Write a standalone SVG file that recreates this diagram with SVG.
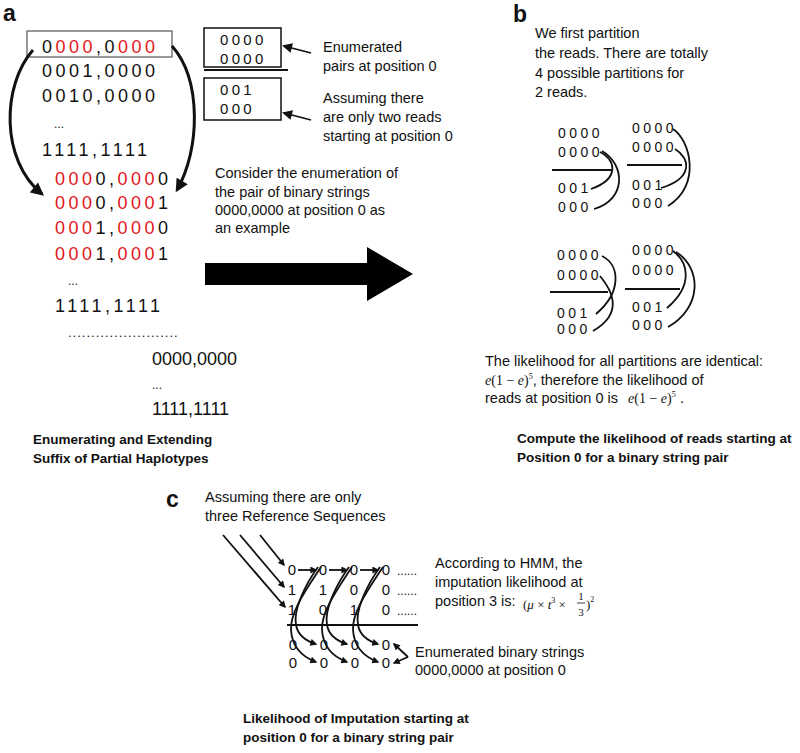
<svg xmlns="http://www.w3.org/2000/svg" width="800" height="753" viewBox="0 0 800 753">
<style>
.t{font-family:"Liberation Sans",Arial,sans-serif;font-size:14.5px;fill:#111}
.b{font-family:"Liberation Sans",Arial,sans-serif;font-weight:bold;font-size:13.5px;fill:#111}
.lbl{font-family:"Liberation Sans",Arial,sans-serif;font-weight:bold;font-size:23px;fill:#111}
.d17{font-family:"Liberation Sans",Arial,sans-serif;font-size:18px;fill:#111}
.sp{letter-spacing:3.5px}
.d14{font-family:"Liberation Sans",Arial,sans-serif;font-size:15px;letter-spacing:3.3px;fill:#111}
.d13{font-family:"Liberation Sans",Arial,sans-serif;font-size:14px;letter-spacing:3.5px;fill:#111}
.d15{font-family:"Liberation Sans",Arial,sans-serif;font-size:15px;fill:#111;text-anchor:middle}
.r{fill:#e3161b}
.m{font-family:"Liberation Serif","Times New Roman",serif;font-size:14px;fill:#111}
.i{font-style:italic}
.ln{stroke:#111;fill:none}
</style>
<defs>
<marker id="ahBig" viewBox="0 0 10 10" refX="8" refY="5" markerWidth="14" markerHeight="13" markerUnits="userSpaceOnUse" orient="auto"><path d="M0,0 L10,5 L0,10 z" fill="#111"/></marker>
<marker id="ahMid" viewBox="0 0 10 10" refX="8" refY="5" markerWidth="11" markerHeight="10" markerUnits="userSpaceOnUse" orient="auto"><path d="M0,0 L10,5 L0,10 z" fill="#111"/></marker>
<marker id="ahSm" viewBox="0 0 10 10" refX="8" refY="5" markerWidth="8" markerHeight="7" markerUnits="userSpaceOnUse" orient="auto"><path d="M0,0 L10,5 L0,10 z" fill="#111"/></marker>
</defs>
<rect width="800" height="753" fill="#fff"/>

<!-- Panel a -->
<g id="panel-a">
<text class="lbl" x="3" y="21">a</text>
<rect x="27" y="31" width="145" height="26" fill="none" stroke="#555" stroke-width="1.2"/>
<text class="d17 sp" x="42" y="53">0<tspan class="r">000</tspan>,0<tspan class="r">000</tspan></text>
<text class="d17 sp" x="42" y="77">0001,0000</text>
<text class="d17 sp" x="42" y="102">0010,0000</text>
<text class="t" x="54" y="128" style="font-size:12px">...</text>
<text class="d17 sp" x="42" y="156">1111,1111</text>
<text class="d17 sp" x="55" y="185"><tspan class="r">000</tspan>0,<tspan class="r">000</tspan>0</text>
<text class="d17 sp" x="55" y="209"><tspan class="r">000</tspan>0,<tspan class="r">000</tspan>1</text>
<text class="d17 sp" x="55" y="234"><tspan class="r">000</tspan>1,<tspan class="r">000</tspan>0</text>
<text class="d17 sp" x="55" y="260"><tspan class="r">000</tspan>1,<tspan class="r">000</tspan>1</text>
<text class="t" x="68" y="285" style="font-size:12px">...</text>
<text class="d17 sp" x="55" y="312">1111,1111</text>
<text class="t" x="68" y="337" style="font-size:13px;letter-spacing:1px">........................</text>
<text class="d17" x="152" y="365">0000,0000</text>
<text class="t" x="152" y="389" style="font-size:12px">...</text>
<text class="d17" x="152" y="415">1111,1111</text>
<text class="b" x="33" y="444">Enumerating and Extending</text>
<text class="b" x="33" y="463">Suffix of Partial Haplotypes</text>
</g>

<g id="box-pairs">
<rect x="204" y="28" width="77" height="39" fill="none" stroke="#111" stroke-width="1.5"/>
<text class="d14" x="220" y="45">0000</text>
<text class="d14" x="220" y="64">0000</text>
</g>
<g id="box-reads">
<rect x="204" y="78" width="77" height="42" fill="none" stroke="#111" stroke-width="1.5"/>
<text class="d14" x="220" y="95">001</text>
<text class="d14" x="220" y="114">000</text>
</g>
<g id="notes-a">
<text class="t" x="323" y="52">Enumerated</text>
<text class="t" x="323" y="71">pairs at position 0</text>
<text class="t" x="323" y="103">Assuming there</text>
<text class="t" x="323" y="122">are only two reads</text>
<text class="t" x="323" y="141">starting at position 0</text>
<text class="t" x="215" y="178">Consider the enumeration of</text>
<text class="t" x="215" y="197">the pair of binary strings</text>
<text class="t" x="215" y="215">0000,0000 at position 0 as</text>
<text class="t" x="215" y="233">an example</text>
</g>

<!-- Panel b -->
<g id="panel-b">
<text class="lbl" x="513" y="22">b</text>
<text class="t" x="535" y="38">We first partition</text>
<text class="t" x="535" y="58">the reads. There are totally</text>
<text class="t" x="535" y="78">4 possible partitions for</text>
<text class="t" x="535" y="97">2 reads.</text>
</g>
<g id="partition-1">
<text class="d13" x="558" y="138">0000</text>
<text class="d13" x="558" y="157">0000</text>
<line class="ln" x1="552" y1="170" x2="612" y2="170" stroke-width="2"/>
<text class="d13" x="558" y="193">001</text>
<text class="d13" x="558" y="212">000</text>
</g>
<g id="partition-2">
<text class="d13" x="632" y="133">0000</text>
<text class="d13" x="632" y="152">0000</text>
<line class="ln" x1="627" y1="165" x2="682" y2="165" stroke-width="2"/>
<text class="d13" x="632" y="190">001</text>
<text class="d13" x="632" y="208">000</text>
</g>
<g id="partition-3">
<text class="d13" x="557" y="260">0000</text>
<text class="d13" x="557" y="280">0000</text>
<line class="ln" x1="550" y1="292" x2="608" y2="292" stroke-width="2"/>
<text class="d13" x="557" y="318">001</text>
<text class="d13" x="557" y="334">000</text>
</g>
<g id="partition-4">
<text class="d13" x="632" y="255">0000</text>
<text class="d13" x="632" y="275">0000</text>
<line class="ln" x1="625" y1="289" x2="680" y2="289" stroke-width="2"/>
<text class="d13" x="632" y="312">001</text>
<text class="d13" x="632" y="330">000</text>
</g>
<g id="likelihood-b">
<text class="t" x="485" y="366">The likelihood for all partitions are identical:</text>
<text class="t" x="485" y="385"><tspan class="m i">e</tspan><tspan class="m">(1 − </tspan><tspan class="m i">e</tspan><tspan class="m">)</tspan><tspan class="m" style="font-size:8px" dy="-6">5</tspan><tspan dy="6">, therefore the likelihood of</tspan></text>
<text class="t" x="485" y="403">reads at position 0 is</text>
<text class="m" x="628" y="403"><tspan class="i">e</tspan>(1 − <tspan class="i">e</tspan>)<tspan style="font-size:8px" dy="-6">5</tspan></text>
<text class="t" x="680" y="403">.</text>
<text class="b" x="517" y="443">Compute the likelihood of reads starting at</text>
<text class="b" x="517" y="462">Position 0 for a binary string pair</text>
</g>

<!-- Panel c -->
<g id="panel-c">
<text class="lbl" x="166" y="507">c</text>
<text class="t" x="205" y="502">Assuming there are only</text>
<text class="t" x="205" y="521">three Reference Sequences</text>
</g>
<g id="ref-seqs">
<text class="d15" x="292" y="575">0</text><text class="d15" x="323" y="575">0</text><text class="d15" x="354" y="575">0</text><text class="d15" x="386" y="575">0</text>
<text class="d15" x="292" y="595">1</text><text class="d15" x="323" y="595">1</text><text class="d15" x="354" y="595">0</text><text class="d15" x="386" y="595">0</text>
<text class="d15" x="292" y="615">1</text><text class="d15" x="323" y="615">0</text><text class="d15" x="354" y="615">1</text><text class="d15" x="386" y="615">0</text>
<text class="t" x="397" y="575" style="font-size:12px">......</text>
<text class="t" x="397" y="595" style="font-size:12px">......</text>
<text class="t" x="397" y="615" style="font-size:12px">......</text>
<line class="ln" x1="287" y1="625" x2="418" y2="625" stroke-width="2"/>
</g>
<g id="enum-strings">
<text class="d15" x="293" y="650">0</text><text class="d15" x="324" y="650">0</text><text class="d15" x="355" y="650">0</text><text class="d15" x="386" y="650">0</text>
<text class="d15" x="293" y="668">0</text><text class="d15" x="324" y="668">0</text><text class="d15" x="355" y="668">0</text><text class="d15" x="386" y="668">0</text>
</g>
<g id="notes-c">
<text class="t" x="435" y="568">According to HMM, the</text>
<text class="t" x="435" y="587">imputation likelihood at</text>
<text class="t" x="435" y="606">position 3 is:</text>
<text class="m" x="523" y="609" style="font-size:13px">(<tspan class="i">μ</tspan> × <tspan class="i">t</tspan><tspan style="font-size:8px" dy="-6">3</tspan><tspan dy="6"> ×</tspan></text>
<text class="m" x="581" y="600" style="font-size:11px" text-anchor="middle">1</text>
<line class="ln" x1="577" y1="603" x2="585" y2="603" stroke-width="0.8"/>
<text class="m" x="581" y="616" style="font-size:11px" text-anchor="middle">3</text>
<text class="m" x="586" y="609" style="font-size:13px">)<tspan style="font-size:8px" dy="-7">2</tspan></text>
<text class="t" x="415" y="657">Enumerated binary strings</text>
<text class="t" x="415" y="675">0000,0000 at position 0</text>
<text class="b" x="243" y="723">Likelihood of Imputation starting at</text>
<text class="b" x="243" y="742">position 0 for a binary string pair</text>
</g>

<g id="connectors">
<!-- panel a -->
<path class="ln" d="M33,50 C2,85 0,160 42,194" stroke-width="3" marker-end="url(#ahBig)"/>
<path class="ln" d="M172,46 C202,80 200,150 177,190" stroke-width="3" marker-end="url(#ahBig)"/>
<line class="ln" x1="204" y1="70" x2="288" y2="70" stroke-width="2"/>
<line class="ln" x1="311" y1="53" x2="284" y2="46" stroke-width="1.8" marker-end="url(#ahMid)"/>
<line class="ln" x1="311" y1="120" x2="284" y2="113" stroke-width="1.8" marker-end="url(#ahMid)"/>
<polygon points="205,263 367,263 367,247 413,274 367,301 367,285 205,285" fill="#000"/>
<!-- panel b -->
<g stroke-width="1.8">
<path class="ln" d="M600,152 C614,158 622,178 591,189"/>
<path class="ln" d="M602,151 C626,165 626,200 594,209"/>
<path class="ln" d="M673,129 C690,140 702,185 668,206"/>
<path class="ln" d="M675,149 C690,158 694,178 661,188"/>
<path class="ln" d="M602,256 C620,265 622,292 596,314"/>
<path class="ln" d="M600,276 C610,288 626,312 593,331"/>
<path class="ln" d="M673,251 C688,262 694,285 667,308"/>
<path class="ln" d="M676,252 C702,268 702,308 668,327"/>
</g>
<!-- panel c -->
<g stroke-width="1.8">
<line class="ln" x1="223" y1="535" x2="285" y2="607" marker-end="url(#ahSm)"/>
<line class="ln" x1="240" y1="535" x2="284" y2="587" marker-end="url(#ahSm)"/>
<line class="ln" x1="260" y1="535" x2="284" y2="565" marker-end="url(#ahSm)"/>
<line class="ln" x1="298" y1="570" x2="316" y2="570" marker-end="url(#ahSm)"/>
<line class="ln" x1="329" y1="570" x2="347" y2="570" marker-end="url(#ahSm)"/>
<line class="ln" x1="360" y1="570" x2="378" y2="570" marker-end="url(#ahSm)"/>
<path class="ln" d="M318,567 C305,585 293,610 296,625 C298,636 306,641 316,644" marker-end="url(#ahSm)"/>
<path class="ln" d="M321,567 C306,590 290,612 291,630 C292,646 300,656 316,662" marker-end="url(#ahSm)"/>
<path class="ln" d="M349,567 C336,585 324,610 327,625 C329,636 337,641 347,644" marker-end="url(#ahSm)"/>
<path class="ln" d="M352,567 C337,590 321,612 322,630 C323,646 331,656 347,662" marker-end="url(#ahSm)"/>
<path class="ln" d="M380,567 C367,585 355,610 358,625 C360,636 368,641 378,644" marker-end="url(#ahSm)"/>
<path class="ln" d="M383,567 C368,590 352,612 353,630 C354,646 362,656 378,662" marker-end="url(#ahSm)"/>
<line class="ln" x1="408" y1="657" x2="394" y2="644" marker-end="url(#ahSm)"/>
<line class="ln" x1="408" y1="657" x2="394" y2="663" marker-end="url(#ahSm)"/>
</g>
</g>
</svg>
